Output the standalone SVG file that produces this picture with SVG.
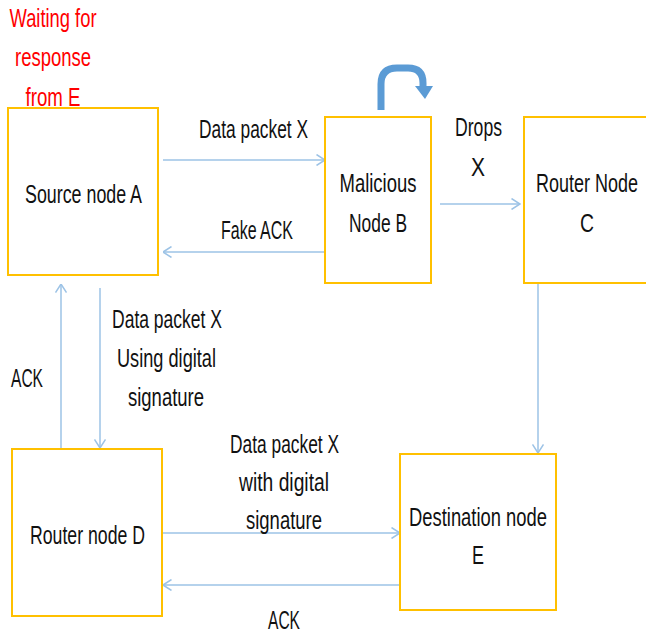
<svg xmlns="http://www.w3.org/2000/svg" width="646" height="636" viewBox="0 0 646 636">
<defs>
<style>
.box{fill:#fff;stroke:#FFC000;stroke-width:2}
.t{font-family:"Liberation Sans",Arial,sans-serif;font-size:26px;fill:#111;text-anchor:middle}
.red{fill:#FF0000}
.c{stroke:#9DC3E6;stroke-width:1.5;fill:none}
</style>
<marker id="ah" viewBox="0 0 10 12" refX="9.5" refY="6" markerWidth="10" markerHeight="12" markerUnits="userSpaceOnUse" orient="auto">
<path d="M1,0.5 L9.5,6 L1,11.5" fill="none" stroke="#9DC3E6" stroke-width="1.5"/>
</marker>
</defs>
<rect width="646" height="636" fill="#fff"/>
<g id="note">
<text class="t red" x="53" y="27" textLength="87" lengthAdjust="spacingAndGlyphs">Waiting for</text>
<text class="t red" x="53" y="66" textLength="76" lengthAdjust="spacingAndGlyphs">response</text>
<text class="t red" x="53" y="106" textLength="55" lengthAdjust="spacingAndGlyphs">from E</text>
</g>
<g id="connectors">
<line class="c" x1="163" y1="160" x2="325" y2="160" marker-end="url(#ah)"/>
<line class="c" x1="325" y1="252" x2="163" y2="252" marker-end="url(#ah)"/>
<line class="c" x1="440" y1="204" x2="520" y2="204" marker-end="url(#ah)"/>
<line class="c" x1="538" y1="284" x2="538" y2="453" marker-end="url(#ah)"/>
<line class="c" x1="100" y1="288" x2="100" y2="448" marker-end="url(#ah)"/>
<line class="c" x1="61" y1="449" x2="61" y2="284" marker-end="url(#ah)"/>
<line class="c" x1="163" y1="533" x2="400" y2="533" marker-end="url(#ah)"/>
<line class="c" x1="400" y1="585" x2="163" y2="585" marker-end="url(#ah)"/>
<path d="M381,110 V84 Q381,68 397,68 H408 Q423,68 423,83 V87" fill="none" stroke="#5B9BD5" stroke-width="7"/>
<polygon points="415,86 433,86 425,99" fill="#5B9BD5"/>
</g>
<g id="labels">
<text class="t" x="253.5" y="138" textLength="109" lengthAdjust="spacingAndGlyphs">Data packet X</text>
<text class="t" x="257" y="239" textLength="72" lengthAdjust="spacingAndGlyphs">Fake ACK</text>
<text class="t" x="478.5" y="136" textLength="47" lengthAdjust="spacingAndGlyphs">Drops</text>
<text class="t" x="478" y="176" textLength="14" lengthAdjust="spacingAndGlyphs">X</text>
<text class="t" x="167" y="328" textLength="110" lengthAdjust="spacingAndGlyphs">Data packet X</text>
<text class="t" x="166.5" y="367" textLength="99" lengthAdjust="spacingAndGlyphs">Using digital</text>
<text class="t" x="166" y="406" textLength="76" lengthAdjust="spacingAndGlyphs">signature</text>
<text class="t" x="27" y="387" textLength="32" lengthAdjust="spacingAndGlyphs">ACK</text>
<text class="t" x="284.5" y="453" textLength="109" lengthAdjust="spacingAndGlyphs">Data packet X</text>
<text class="t" x="284" y="491" textLength="90" lengthAdjust="spacingAndGlyphs">with digital</text>
<text class="t" x="284" y="529" textLength="76" lengthAdjust="spacingAndGlyphs">signature</text>
<text class="t" x="284" y="629" textLength="32" lengthAdjust="spacingAndGlyphs">ACK</text>
</g>
<g id="nodeA">
<rect class="box" x="8" y="108" width="150" height="167"/>
<text class="t" x="83.5" y="203" textLength="117" lengthAdjust="spacingAndGlyphs">Source node A</text>
</g>
<g id="nodeB">
<rect class="box" x="325" y="117" width="106" height="166"/>
<text class="t" x="378" y="192" textLength="77" lengthAdjust="spacingAndGlyphs">Malicious</text>
<text class="t" x="378" y="232" textLength="58" lengthAdjust="spacingAndGlyphs">Node B</text>
</g>
<g id="nodeC">
<rect class="box" x="524" y="117" width="123" height="166"/>
<text class="t" x="587" y="192" textLength="102" lengthAdjust="spacingAndGlyphs">Router Node</text>
<text class="t" x="587" y="232" textLength="14" lengthAdjust="spacingAndGlyphs">C</text>
</g>
<g id="nodeD">
<rect class="box" x="12" y="449" width="150" height="167"/>
<text class="t" x="87.5" y="544" textLength="115" lengthAdjust="spacingAndGlyphs">Router node D</text>
</g>
<g id="nodeE">
<rect class="box" x="400" y="454" width="156" height="156"/>
<text class="t" x="478" y="526" textLength="138" lengthAdjust="spacingAndGlyphs">Destination node</text>
<text class="t" x="478" y="564" textLength="12" lengthAdjust="spacingAndGlyphs">E</text>
</g>
</svg>
